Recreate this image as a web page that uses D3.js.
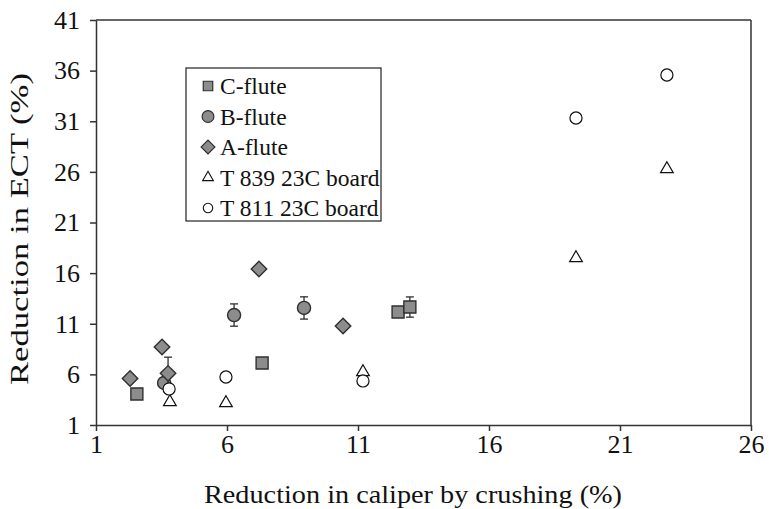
<!DOCTYPE html>
<html>
<head>
<meta charset="utf-8">
<script src="https://cdn.jsdelivr.net/npm/d3@7"></script>
<style>
  html, body { margin: 0; padding: 0; background: #fff; }
</style>
</head>
<body>
<svg id="chart" width="769" height="509"></svg>
<script>
// ---- data ----
const xTicks = [1, 6, 11, 16, 21, 26];
const yTicks = [1, 6, 11, 16, 21, 26, 31, 36, 41];

const cFluteX = [2.56, 7.34, 12.53, 12.98];
const cFluteY = [4.06, 7.12, 12.16, 12.65];
const cFluteErr = [0, 0, 0, 1.0];

const bFluteX = [3.6, 6.27, 8.94];
const bFluteY = [5.15, 11.86, 12.56];
const bFluteErr = [0, 1.1, 1.1];

const aFluteX = [2.3, 3.52, 3.75, 7.22, 10.43];
const aFluteY = [5.6, 8.7, 6.1, 16.4, 10.78];
const aFluteErr = [0, 0, 1.6, 0, 0];

const t839X = [3.82, 5.96, 11.19, 19.32, 22.79];
const t839Y = [3.27, 3.17, 6.23, 17.49, 26.28];

const t811X = [3.79, 5.96, 11.19, 19.32, 22.79];
const t811Y = [4.56, 5.74, 5.35, 31.32, 35.57];

const legendLabels = ["C-flute", "B-flute", "A-flute", "T 839 23C board", "T 811 23C board"];

// ---- layout ----
const FONT = '"Liberation Serif"';
const svg = d3.select("#chart");
const L = 96, R = 751, T = 20, B = 425;
const x = d3.scaleLinear().domain([1, 26]).range([L, R]);
const y = d3.scaleLinear().domain([1, 41]).range([B, T]);
const axisColor = "#333";
const grayFill = "#8c8c8c";
const darkStroke = "#2f2f2f";

// borders
svg.append("line").attr("x1", L).attr("x2", R).attr("y1", T).attr("y2", T)
  .attr("stroke", axisColor).attr("stroke-width", 1.5);
svg.append("line").attr("x1", R).attr("x2", R).attr("y1", T).attr("y2", B)
  .attr("stroke", axisColor).attr("stroke-width", 1.5);

const xAxis = svg.append("g").attr("transform", `translate(0,${B})`)
  .call(d3.axisBottom(x).tickValues(xTicks).tickSize(6).tickSizeOuter(0).tickPadding(1));
const yAxis = svg.append("g").attr("transform", `translate(${L},0)`)
  .call(d3.axisLeft(y).tickValues(yTicks).tickSize(6).tickSizeOuter(0).tickPadding(10));
[xAxis, yAxis].forEach(g => {
  g.select(".domain").attr("stroke", axisColor).attr("stroke-width", 1.5);
  g.selectAll(".tick line").attr("stroke", axisColor).attr("stroke-width", 1.5);
  g.selectAll(".tick text").style("font-family", FONT).style("font-size", "26px").attr("fill", "#111");
});
xAxis.selectAll(".tick text").attr("dy", "0.8em");

// axis titles
svg.append("text").attr("x", 413).attr("y", 503)
  .attr("text-anchor", "middle").style("font-family", FONT).style("font-size", "26px").attr("fill", "#111")
  .attr("textLength", 418).attr("lengthAdjust", "spacingAndGlyphs")
  .text("Reduction in caliper by crushing (%)");
svg.append("text").attr("transform", `translate(28,229) rotate(-90)`)
  .attr("text-anchor", "middle").style("font-family", FONT).style("font-size", "26px").attr("fill", "#111")
  .attr("textLength", 312).attr("lengthAdjust", "spacingAndGlyphs")
  .text("Reduction in ECT (%)");

// error bars
function errBars(xs, ys, es) {
  const g = svg.append("g").attr("stroke", darkStroke).attr("stroke-width", 1.3);
  xs.forEach((xv, i) => {
    if (!es[i]) return;
    const cx = x(xv), y1 = y(ys[i] + es[i]), y2 = y(ys[i] - es[i]);
    g.append("line").attr("x1", cx).attr("x2", cx).attr("y1", y1).attr("y2", y2);
    g.append("line").attr("x1", cx - 4).attr("x2", cx + 4).attr("y1", y1).attr("y2", y1);
    g.append("line").attr("x1", cx - 4).attr("x2", cx + 4).attr("y1", y2).attr("y2", y2);
  });
}

const sym = {
  square: d3.symbol().type(d3.symbolSquare),
  circle: d3.symbol().type(d3.symbolCircle),
  diamond: d3.symbol().type(d3.symbolSquare),
  triangle: d3.symbol().type(d3.symbolTriangle)
};

function points(xs, ys, shape, size, fill, stroke, sw, rotate) {
  svg.append("g").selectAll("path").data(xs.map((v, i) => [v, ys[i]])).join("path")
    .attr("transform", d => `translate(${x(d[0])},${y(d[1])})` + (rotate ? " rotate(45)" : ""))
    .attr("d", sym[shape].size(size)())
    .attr("fill", fill).attr("stroke", stroke).attr("stroke-width", sw);
}

errBars(bFluteX, bFluteY, bFluteErr);
points(bFluteX, bFluteY, "circle", 135, grayFill, darkStroke, 1.4);
errBars(aFluteX, aFluteY, aFluteErr);
points(aFluteX, aFluteY, "diamond", 120, grayFill, darkStroke, 1.4, true);
errBars(cFluteX, cFluteY, cFluteErr);
points(cFluteX, cFluteY, "square", 144, grayFill, darkStroke, 1.4);
points(t839X, t839Y, "triangle", 70, "#fff", "#111", 1.2);
points(t811X, t811Y, "circle", 115, "#fff", "#111", 1.2);

// legend
const lg = svg.append("g");
lg.append("rect").attr("x", 186).attr("y", 68).attr("width", 195).attr("height", 153)
  .attr("fill", "#fff").attr("stroke", "#222").attr("stroke-width", 1.2);
const legShapes = [
  ["square", 90, grayFill, darkStroke, 1.2, false],
  ["circle", 110, grayFill, darkStroke, 1.2, false],
  ["diamond", 95, grayFill, darkStroke, 1.2, true],
  ["triangle", 50, "#fff", "#111", 1.1, false],
  ["circle", 70, "#fff", "#111", 1.1, false]
];
legendLabels.forEach((lab, i) => {
  const cy = 86 + i * 30.5;
  const s = legShapes[i];
  lg.append("path").attr("transform", `translate(208,${cy})` + (s[5] ? " rotate(45)" : ""))
    .attr("d", sym[s[0]].size(s[1])())
    .attr("fill", s[2]).attr("stroke", s[3]).attr("stroke-width", s[4]);
  lg.append("text").attr("x", 220).attr("y", cy).attr("dy", "0.35em")
    .style("font-family", FONT).style("font-size", "23.5px").attr("fill", "#111").text(lab);
});
</script>
</body>
</html>
